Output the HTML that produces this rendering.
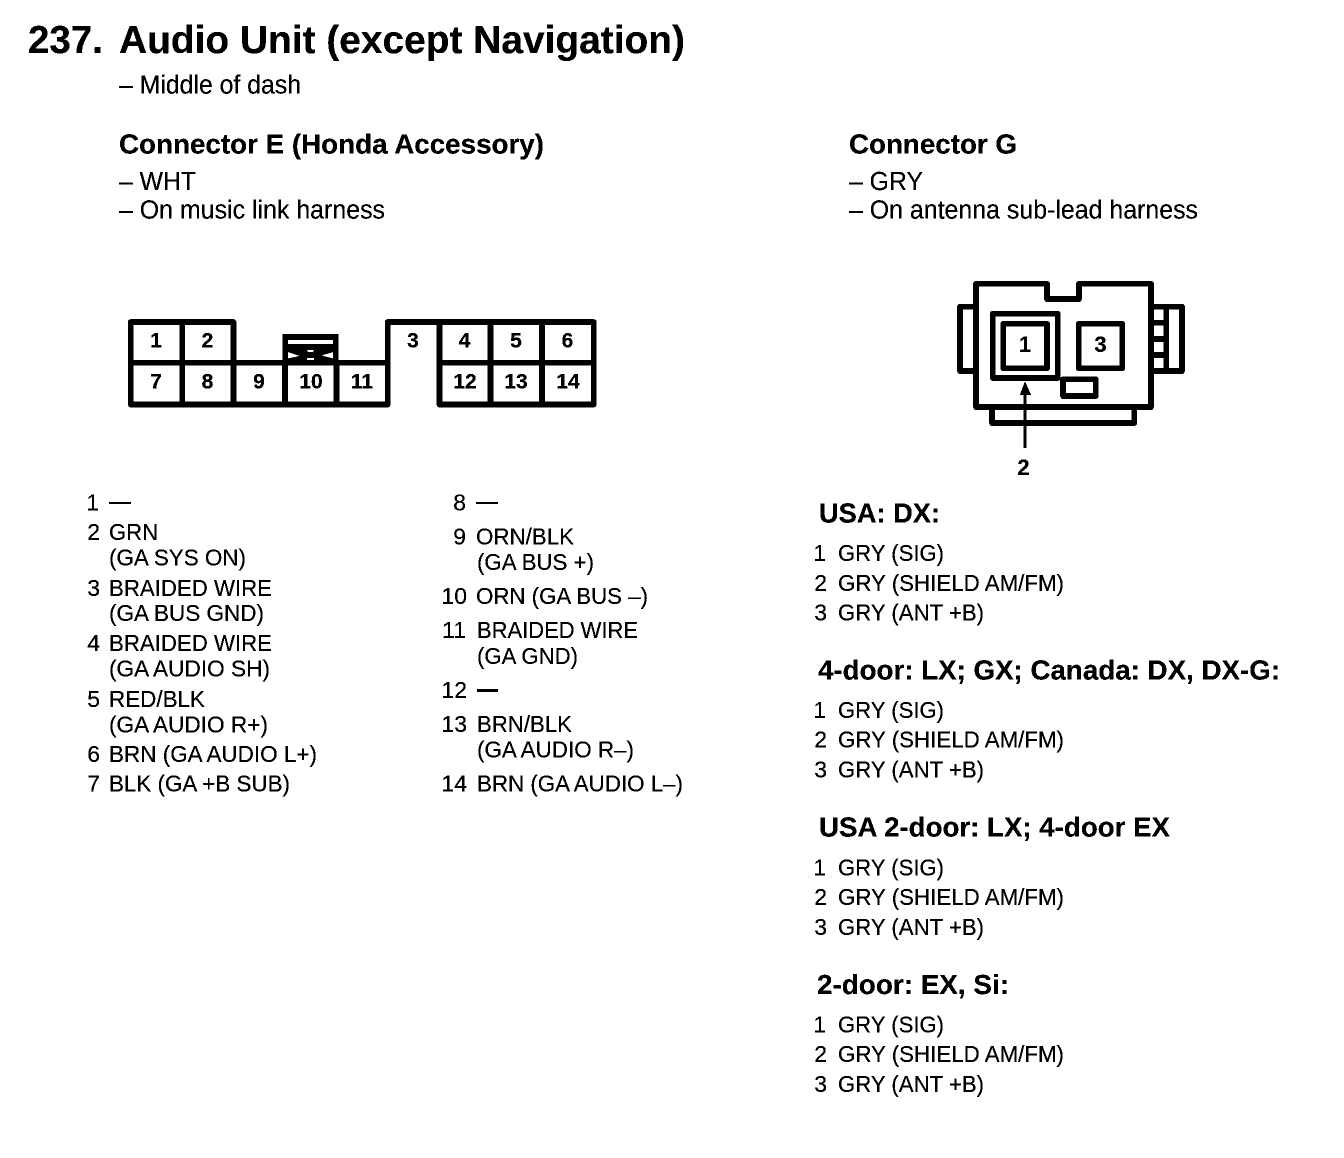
<!DOCTYPE html>
<html><head><meta charset="utf-8">
<style>
html,body{margin:0;padding:0;background:#fff;width:1344px;height:1158px;overflow:hidden}
svg{display:block}
text{font-family:"Liberation Sans",sans-serif;fill:#000}
.t{font-size:38.5px;font-weight:bold}
.h{font-size:28px;font-weight:bold}
.b{font-size:25.5px}
.n{font-size:21px;font-weight:bold;text-anchor:middle}
.g{font-size:22px;font-weight:bold;text-anchor:middle}
.p{font-size:23px}
.e{text-anchor:end}
.s{fill:none;stroke:#000;stroke-width:5.5;stroke-linejoin:round;stroke-linecap:round}
</style></head>
<body>
<svg width="1344" height="1158" viewBox="0 0 1344 1158" xmlns="http://www.w3.org/2000/svg" style="filter:url(#bin)">
<defs>
<filter id="bin" x="0" y="0" width="100%" height="100%" color-interpolation-filters="sRGB">
<feComponentTransfer>
<feFuncR type="discrete" tableValues="0 0 0 1"/>
<feFuncG type="discrete" tableValues="0 0 0 1"/>
<feFuncB type="discrete" tableValues="0 0 0 1"/>
</feComponentTransfer>
</filter>
</defs>
<rect width="1344" height="1158" fill="#fff"/>

<text class="t" x="28" y="53" textLength="75" lengthAdjust="spacingAndGlyphs">237.</text>
<text class="t" x="119" y="53" textLength="566" lengthAdjust="spacingAndGlyphs">Audio Unit (except Navigation)</text>
<text class="b" x="119" y="93.500" textLength="182" lengthAdjust="spacingAndGlyphs">– Middle of dash</text>
<text class="h" x="119" y="153.500" textLength="425" lengthAdjust="spacingAndGlyphs">Connector E (Honda Accessory)</text>
<text class="b" x="119" y="190" textLength="77" lengthAdjust="spacingAndGlyphs">– WHT</text>
<text class="b" x="119" y="218.500" textLength="266" lengthAdjust="spacingAndGlyphs">– On music link harness</text>
<text class="h" x="849" y="153.500" textLength="168" lengthAdjust="spacingAndGlyphs">Connector G</text>
<text class="b" x="849" y="190" textLength="74" lengthAdjust="spacingAndGlyphs">– GRY</text>
<text class="b" x="849" y="218.500" textLength="349" lengthAdjust="spacingAndGlyphs">– On antenna sub-lead harness</text>

<!-- Connector E -->
<path class="s" d="M130.800 322H233.500V362.700H387.700V322H593.700V404.500H439.500V362.700M387.700 362.700V404.500H130.800V322M130.800 362.700H233.500M439.500 362.700H593.700"/>
<path class="s" d="M182.200 322V404.500M233.500 362.700V404.500M285 362.700V404.500M336.500 362.700V404.500M439.500 322V362.700M490.500 322V404.500M542 322V404.500"/>
<rect x="282.700" y="334" width="55.600" height="28" fill="#000"/>
<rect x="288" y="340" width="45" height="4" fill="#fff"/>
<polygon points="288,352 288,358.500 300,356" fill="#fff"/>
<polygon points="333,352 333,358.500 321,355.500" fill="#fff"/>
<polygon points="307,350 314,350 313,352 308,352" fill="#fff"/>
<rect x="307" y="358" width="7" height="2" fill="#fff"/>

<text class="n" x="156" y="347.500">1</text>
<text class="n" x="207.500" y="347.500">2</text>
<text class="n" x="413" y="347.500">3</text>
<text class="n" x="464.500" y="347.500">4</text>
<text class="n" x="516" y="347.500">5</text>
<text class="n" x="567.500" y="347.500">6</text>
<text class="n" x="156" y="388.500">7</text>
<text class="n" x="207.500" y="388.500">8</text>
<text class="n" x="259" y="388.500">9</text>
<text class="n" x="311" y="388.500">10</text>
<text class="n" x="362" y="388.500">11</text>
<text class="n" x="465" y="388.500">12</text>
<text class="n" x="516" y="388.500">13</text>
<text class="n" x="568" y="388.500">14</text>

<!-- Connector G -->
<path class="s" d="M976 283.800H1047V299H1079V283.800H1151V407H976Z"/>
<path class="s" d="M976 306.700H960V371H976"/>
<path class="s" d="M1151 306.700H1182V371H1151"/>
<path class="s" d="M1166.200 306.700V371M1151 322.700H1166.200M1151 339H1166.200M1151 355H1166.200"/>
<path class="s" d="M992 407V423H1134.300V407"/>
<rect x="992.800" y="313.700" width="65" height="64.300" class="s"/>
<rect x="1003.300" y="323.800" width="43.700" height="44.500" class="s"/>
<rect x="1078.800" y="323.800" width="43.400" height="44.500" class="s"/>
<rect x="1063" y="379.300" width="32.800" height="16.700" class="s"/>
<path d="M1025 395V448" stroke="#000" stroke-width="2.500" fill="none"/>
<polygon points="1025,381.500 1020,395 1031,395" fill="#000"/>
<text class="g" x="1025" y="352">1</text>
<text class="g" x="1100.500" y="352">3</text>
<text class="g" x="1023.500" y="475">2</text>

<!-- Left list -->
<text class="p e" x="99" y="510.500">1</text>
<rect x="109" y="502" width="22" height="2" fill="#000"/>
<text class="p e" x="100" y="540">2</text>
<text class="p" x="109" y="540" textLength="49" lengthAdjust="spacingAndGlyphs">GRN</text>
<text class="p" x="109" y="565.500" textLength="137" lengthAdjust="spacingAndGlyphs">(GA SYS ON)</text>
<text class="p e" x="100" y="596">3</text>
<text class="p" x="109" y="596" textLength="163" lengthAdjust="spacingAndGlyphs">BRAIDED WIRE</text>
<text class="p" x="109" y="621" textLength="155" lengthAdjust="spacingAndGlyphs">(GA BUS GND)</text>
<text class="p e" x="100" y="651">4</text>
<text class="p" x="109" y="651" textLength="163" lengthAdjust="spacingAndGlyphs">BRAIDED WIRE</text>
<text class="p" x="109" y="676.500" textLength="161" lengthAdjust="spacingAndGlyphs">(GA AUDIO SH)</text>
<text class="p e" x="100" y="707">5</text>
<text class="p" x="109" y="707" textLength="96" lengthAdjust="spacingAndGlyphs">RED/BLK</text>
<text class="p" x="109" y="732.500" textLength="159" lengthAdjust="spacingAndGlyphs">(GA AUDIO R+)</text>
<text class="p e" x="100" y="762">6</text>
<text class="p" x="109" y="762" textLength="208" lengthAdjust="spacingAndGlyphs">BRN (GA AUDIO L+)</text>
<text class="p e" x="100" y="791.500">7</text>
<text class="p" x="109" y="791.500" textLength="181" lengthAdjust="spacingAndGlyphs">BLK (GA +B SUB)</text>

<!-- Middle list -->
<text class="p e" x="466" y="510.500">8</text>
<rect x="476" y="502" width="22" height="2" fill="#000"/>
<text class="p e" x="466" y="544.500">9</text>
<text class="p" x="476" y="544.500" textLength="98" lengthAdjust="spacingAndGlyphs">ORN/BLK</text>
<text class="p" x="477" y="570" textLength="117" lengthAdjust="spacingAndGlyphs">(GA BUS +)</text>
<text class="p e" x="467" y="604">10</text>
<text class="p" x="476" y="604" textLength="172" lengthAdjust="spacingAndGlyphs">ORN (GA BUS –)</text>
<text class="p e" x="466" y="638">11</text>
<text class="p" x="477" y="638" textLength="161" lengthAdjust="spacingAndGlyphs">BRAIDED WIRE</text>
<text class="p" x="477" y="664" textLength="101" lengthAdjust="spacingAndGlyphs">(GA GND)</text>
<text class="p e" x="467" y="698">12</text>
<rect x="477" y="689" width="21" height="3" fill="#000"/>
<text class="p e" x="467" y="732">13</text>
<text class="p" x="477" y="732" textLength="95" lengthAdjust="spacingAndGlyphs">BRN/BLK</text>
<text class="p" x="477" y="757.500" textLength="157" lengthAdjust="spacingAndGlyphs">(GA AUDIO R–)</text>
<text class="p e" x="467" y="791.500">14</text>
<text class="p" x="477" y="791.500" textLength="206" lengthAdjust="spacingAndGlyphs">BRN (GA AUDIO L–)</text>

<!-- Right lists -->
<text class="h" x="819" y="522.500" textLength="121" lengthAdjust="spacingAndGlyphs">USA: DX:</text>
<text class="p e" x="826" y="561">1</text>
<text class="p" x="838" y="561" textLength="106" lengthAdjust="spacingAndGlyphs">GRY (SIG)</text>
<text class="p e" x="827" y="591">2</text>
<text class="p" x="838" y="591" textLength="226" lengthAdjust="spacingAndGlyphs">GRY (SHIELD AM/FM)</text>
<text class="p e" x="827" y="620.500">3</text>
<text class="p" x="838" y="620.500" textLength="146" lengthAdjust="spacingAndGlyphs">GRY (ANT +B)</text>

<text class="h" x="818" y="679.500" textLength="462" lengthAdjust="spacingAndGlyphs">4-door: LX; GX; Canada: DX, DX-G:</text>
<text class="p e" x="826" y="718">1</text>
<text class="p" x="838" y="718" textLength="106" lengthAdjust="spacingAndGlyphs">GRY (SIG)</text>
<text class="p e" x="827" y="747.500">2</text>
<text class="p" x="838" y="747.500" textLength="226" lengthAdjust="spacingAndGlyphs">GRY (SHIELD AM/FM)</text>
<text class="p e" x="827" y="777.500">3</text>
<text class="p" x="838" y="777.500" textLength="146" lengthAdjust="spacingAndGlyphs">GRY (ANT +B)</text>

<text class="h" x="819" y="836.500" textLength="351" lengthAdjust="spacingAndGlyphs">USA 2-door: LX; 4-door EX</text>
<text class="p e" x="826" y="875.500">1</text>
<text class="p" x="838" y="875.500" textLength="106" lengthAdjust="spacingAndGlyphs">GRY (SIG)</text>
<text class="p e" x="827" y="905">2</text>
<text class="p" x="838" y="905" textLength="226" lengthAdjust="spacingAndGlyphs">GRY (SHIELD AM/FM)</text>
<text class="p e" x="827" y="935">3</text>
<text class="p" x="838" y="935" textLength="146" lengthAdjust="spacingAndGlyphs">GRY (ANT +B)</text>

<text class="h" x="817" y="994" textLength="192" lengthAdjust="spacingAndGlyphs">2-door: EX, Si:</text>
<text class="p e" x="826" y="1032.500">1</text>
<text class="p" x="838" y="1032.500" textLength="106" lengthAdjust="spacingAndGlyphs">GRY (SIG)</text>
<text class="p e" x="827" y="1062">2</text>
<text class="p" x="838" y="1062" textLength="226" lengthAdjust="spacingAndGlyphs">GRY (SHIELD AM/FM)</text>
<text class="p e" x="827" y="1092">3</text>
<text class="p" x="838" y="1092" textLength="146" lengthAdjust="spacingAndGlyphs">GRY (ANT +B)</text>
</svg>
</body></html>
